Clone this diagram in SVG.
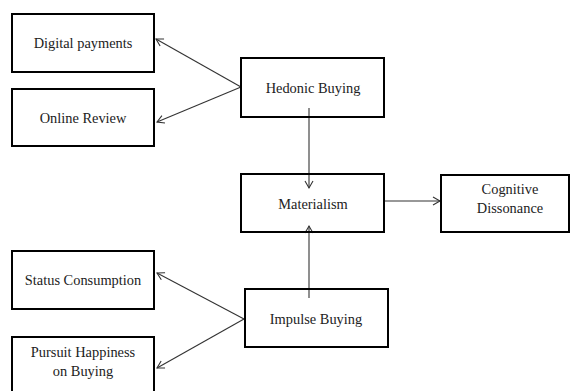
<svg xmlns="http://www.w3.org/2000/svg" width="576" height="391" viewBox="0 0 576 391">
<style>
.box{fill:#fff;stroke:#000;stroke-width:2}
.lbl{font-family:'Liberation Serif','Tinos','Times New Roman','DejaVu Serif',serif;font-size:14.4px;fill:#222;text-anchor:middle}
.con{stroke:#333;stroke-width:1.1;fill:none}
</style>
<defs>
<marker id="arr" markerUnits="userSpaceOnUse" markerWidth="12" markerHeight="12" refX="8" refY="5" orient="auto">
<path d="M1,1 L8,5 L1,9" fill="none" stroke="#333" stroke-width="1.1"/>
</marker>
</defs>
<rect width="576" height="391" fill="#fff"/>
<g id="connectors">
<line class="con" x1="241" y1="87" x2="156" y2="39" marker-end="url(#arr)"/>
<line class="con" x1="241" y1="87" x2="157" y2="122" marker-end="url(#arr)"/>
<line class="con" x1="309" y1="108" x2="309" y2="188" marker-end="url(#arr)"/>
<line class="con" x1="309" y1="298" x2="309" y2="226" marker-end="url(#arr)"/>
<line class="con" x1="384" y1="201" x2="440" y2="201" marker-end="url(#arr)"/>
<line class="con" x1="244" y1="319" x2="157" y2="273" marker-end="url(#arr)"/>
<line class="con" x1="244" y1="319" x2="157" y2="368" marker-end="url(#arr)"/>
</g>
<g id="digital-payments"><rect class="box" x="12" y="14" width="142" height="58"/><text class="lbl" font-family="Liberation Serif, serif" x="83" y="48">Digital payments</text></g>
<g id="online-review"><rect class="box" x="12" y="89" width="142" height="57"/><text class="lbl" font-family="Liberation Serif, serif" x="83" y="123">Online Review</text></g>
<g id="hedonic-buying"><rect class="box" x="241" y="58" width="143" height="59" style="fill:none"/><text class="lbl" font-family="Liberation Serif, serif" x="313" y="93">Hedonic Buying</text></g>
<g id="materialism"><rect class="box" x="241" y="174" width="143" height="58" style="fill:none"/><text class="lbl" font-family="Liberation Serif, serif" x="313" y="209">Materialism</text></g>
<g id="cognitive-dissonance"><rect class="box" x="441" y="175" width="128" height="57"/><text class="lbl" font-family="Liberation Serif, serif" x="510" y="194">Cognitive</text><text class="lbl" font-family="Liberation Serif, serif" x="510" y="213">Dissonance</text></g>
<g id="status-consumption"><rect class="box" x="12" y="251" width="142" height="58"/><text class="lbl" font-family="Liberation Serif, serif" x="83" y="285">Status Consumption</text></g>
<g id="pursuit-happiness"><rect class="box" x="12" y="337" width="142" height="70"/><text class="lbl" font-family="Liberation Serif, serif" x="83" y="357">Pursuit Happiness</text><text class="lbl" font-family="Liberation Serif, serif" x="83" y="376">on Buying</text></g>
<g id="impulse-buying"><rect class="box" x="245" y="289" width="143" height="58" style="fill:none"/><text class="lbl" font-family="Liberation Serif, serif" x="316" y="324">Impulse Buying</text></g>
</svg>
